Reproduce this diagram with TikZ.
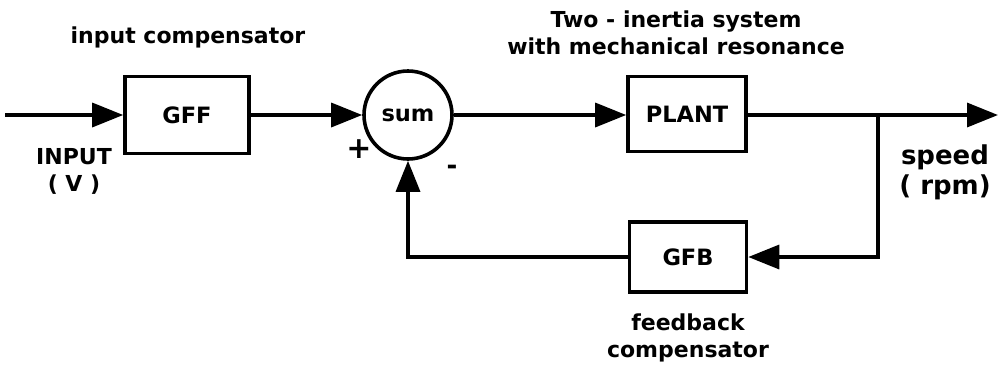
\documentclass[tikz,border=0pt]{standalone}
\usepackage{fontspec}
\setmainfont{DejaVu Sans}
\usetikzlibrary{arrows.meta}
\begin{document}
\begin{tikzpicture}[x=1pt,y=-1pt,
  line width=3.4pt,
  font=\bfseries\fontsize{22.5}{27}\selectfont,
  blockbox/.style={draw, line width=3.6pt, rectangle, inner sep=0pt},
  sumnode/.style={draw, line width=3.6pt, circle, minimum size=88pt, inner sep=0pt},
  tip/.style={-{Triangle[length=31pt,width=24pt]}},
  caption/.style={align=center, font=\bfseries\fontsize{22}{27}\selectfont},
  bigcaption/.style={align=center, font=\bfseries\fontsize{26}{30}\selectfont}]
\useasboundingbox (0,0) rectangle (1005,368);

% blocks
\node[blockbox, minimum width=124pt, minimum height=77pt] (gff) at (187,115) {GFF};
\node[sumnode] (sum) at (408,115) {sum};
\node[blockbox, minimum width=118pt, minimum height=75pt] (plant) at (687,114) {PLANT};
\node[blockbox, minimum width=117pt, minimum height=70pt] (gfb) at (688,257) {GFB};

% signal end points
\coordinate (in) at (5,115);
\coordinate (out) at (998,115);
\coordinate (branch) at (878,115);

% forward path
\draw[tip] (in) -- (gff.west);
\draw[tip] (gff.east) -- (sum.west);
\draw[tip] (sum.east) -- (plant.west |- sum.east);
\draw[tip] (plant.east |- out) -- (out);

% feedback path
\draw[tip] (branch) |- (gfb.east);
\draw[tip] (gfb.west) -| (sum.south);

% signs at the summing junction
\node[font=\bfseries\fontsize{30}{30}\selectfont] (plus) at (359,149) {+};
\node[font=\bfseries\fontsize{26}{26}\selectfont] (minus) at (452,170) {-};

% annotations
\node[caption] (incomp) at (188,37) {input compensator};
\node[caption] (plantlbl) at (676,33) {Two - inertia system\\with mechanical resonance};
\node[caption] (inlbl) at (74,171) {INPUT\\( V )};
\node[bigcaption] (outlbl) at (945,172) {speed\\( rpm)};
\node[caption] (fblbl) at (688,338) {feedback\\compensator};
\end{tikzpicture}
\end{document}
